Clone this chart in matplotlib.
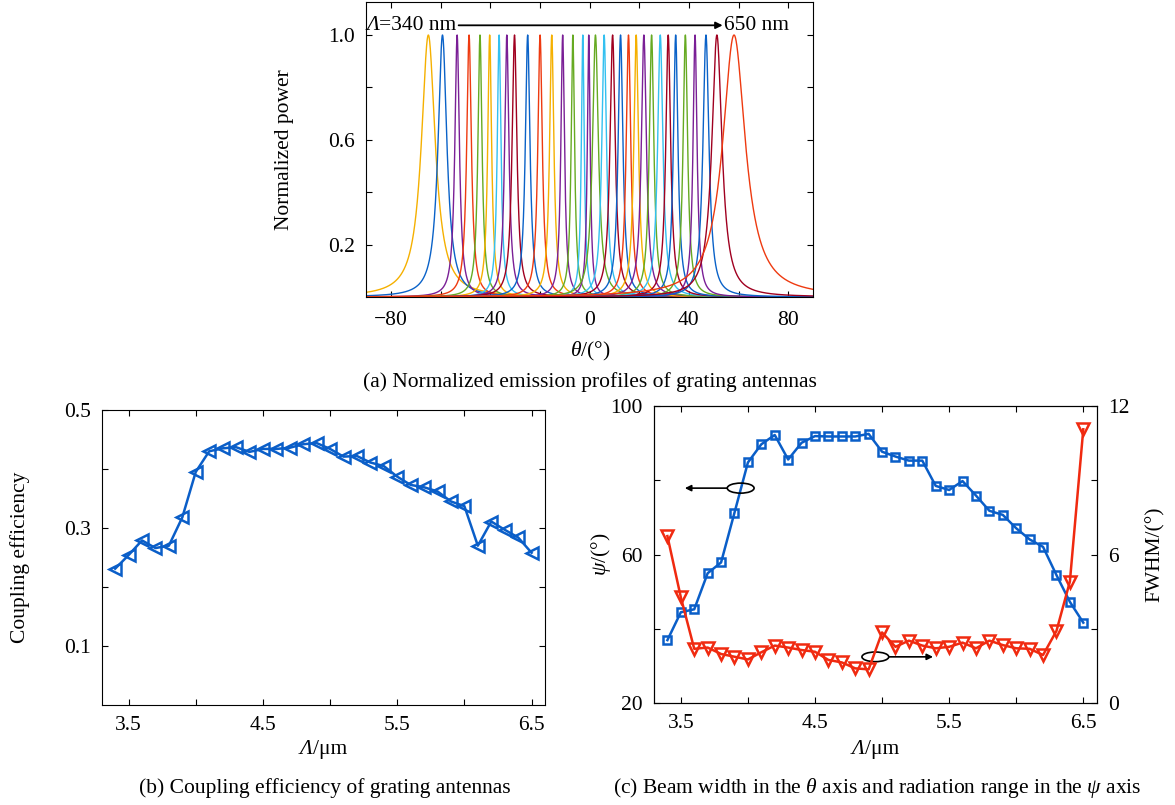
import numpy as np
import matplotlib
matplotlib.use("Agg")
import matplotlib.pyplot as plt
from matplotlib.patches import Ellipse
from matplotlib.offsetbox import TextArea, HPacker, AnnotationBbox

plt.rcParams['font.family'] = ['Liberation Serif', 'DejaVu Serif']
plt.rcParams['mathtext.fontset'] = 'custom'
plt.rcParams['mathtext.rm'] = 'Liberation Serif'
plt.rcParams['mathtext.it'] = 'Liberation Serif:italic'
FS = 15.5
plt.rcParams['font.size'] = FS

# ---------------- data ----------------
# (a) emission profiles: peak angle (deg) and FWHM (deg) for each period 340..650 nm
period_nm = list(range(340, 651, 10))
peak_deg = [-64.9, -59.2, -53.3, -48.5, -44.1, -40.2, -36.4, -33.3, -30.2, -24.9,
            -19.9, -15.2, -10.8, -6.7, -2.7, -0.3, 2.4, 5.9, 9.3, 12.5,
            15.7, 18.8, 21.9, 25.0, 28.5, 31.7, 34.7, 38.6, 42.5, 46.9,
            51.3, 58.2]
curve_colors = ['#F5B000', '#0A62C8', '#7A1F96', '#EE3A10', '#66AA22', '#F5B000', '#33C0F0',
                '#7A1F96', '#A00020', '#0A62C8', '#EE3A10', '#F5B000', '#7A1F96', '#66AA22',
                '#33C0F0', '#7A1F96', '#66AA22', '#33C0F0', '#A00020', '#0A62C8', '#EE3A10',
                '#F5B000', '#7A1F96', '#66AA22', '#33C0F0', '#A00020', '#0A62C8', '#66AA22',
                '#7A1F96', '#0A62C8', '#A00020', '#EE3A10']

# (b), (c) vs period in um
period_um = [3.4, 3.5, 3.6, 3.7, 3.8, 3.9, 4.0, 4.1, 4.2, 4.3, 4.4, 4.5, 4.6, 4.7, 4.8, 4.9,
             5.0, 5.1, 5.2, 5.3, 5.4, 5.5, 5.6, 5.7, 5.8, 5.9, 6.0, 6.1, 6.2, 6.3, 6.4, 6.5]
coupling_eff = [0.231, 0.254, 0.279, 0.266, 0.270, 0.318, 0.395, 0.430, 0.435, 0.437,
                0.429, 0.434, 0.434, 0.436, 0.442, 0.444, 0.434, 0.421, 0.422, 0.411,
                0.405, 0.387, 0.373, 0.369, 0.362, 0.345, 0.337, 0.270, 0.311, 0.297,
                0.284, 0.258]
psi_deg = [37.0, 44.5, 45.3, 55.0, 57.9, 71.3, 84.8, 89.7, 92.2, 85.6, 90.1, 91.9, 91.8,
           91.8, 91.8, 92.5, 87.7, 86.4, 85.3, 85.3, 78.5, 77.4, 79.8, 75.9, 71.8, 70.7,
           67.1, 64.1, 62.1, 54.5, 47.3, 41.7]
fwhm_deg = [6.75, 4.28, 2.20, 2.25, 1.99, 1.88, 1.77, 2.06, 2.33, 2.25, 2.15, 2.08, 1.75,
            1.65, 1.41, 1.37, 2.86, 2.28, 2.53, 2.33, 2.22, 2.28, 2.45, 2.22, 2.53, 2.35,
            2.22, 2.20, 1.95, 2.92, 4.91, 11.06]

W, H = 1175, 805
fig = plt.figure(figsize=(W / 100, H / 100), dpi=100)

def ax_rect(l, t, r, b):
    return [l / W, 1 - b / H, (r - l) / W, (b - t) / H]

def style(ax, **kw):
    ax.tick_params(direction='in', length=4, labelsize=FS, pad=8, **kw)

def mixed_text(ax, parts, xy, xycoords, align):
    boxes = [TextArea(s, textprops=dict(fontsize=FS, fontstyle=st)) for s, st in parts]
    pack = HPacker(children=boxes, pad=0, sep=0, align='baseline')
    ab = AnnotationBbox(pack, xy, xycoords=xycoords, frameon=False,
                        box_alignment=align, pad=0, annotation_clip=False)
    ax.add_artist(ab)

LAMBDA_UM = [('Λ', 'italic'), ('/μm', 'normal')]

blue = '#0A5EC8'
red = '#F02A10'

# ---------------- (a) ----------------
axa = fig.add_axes(ax_rect(366, 2, 813, 297))
theta = np.linspace(-90, 90, 3601)
for c, w, col in zip(peak_deg, fwhm_deg, curve_colors):
    prof = 1.0 / (1.0 + ((theta - c) / (w / 2.0)) ** 2)
    axa.plot(theta, prof, color=col, lw=1.0)
axa.set_xlim(-90, 90)
axa.set_ylim(0, 1.126)
axa.set_xticks(range(-80, 81, 20))
axa.set_xticklabels(['\u221280', '', '\u221240', '', '0', '', '40', '', '80'])
axa.set_yticks([0.2, 0.4, 0.6, 0.8, 1.0])
axa.set_yticklabels(['0.2', '', '0.6', '', '1.0'])
style(axa, top=True, right=True)
axa.tick_params(axis='x', pad=10)
axa.set_xlabel('$\\theta$/(°)', fontsize=FS, va='center')
axa.xaxis.set_label_coords((590 - 366) / 447, (297 - 351) / 295)
axa.set_ylabel('Normalized power', fontsize=FS, va='center')
axa.yaxis.set_label_coords((285 - 366) / 447, 0.5)
mixed_text(axa, [('Λ', 'italic'), ('=340 nm', 'normal')], (-89.8, 1.037), 'data', (0, 0.5))
axa.annotate('', xy=(53.6, 1.037), xytext=(-52.7, 1.037),
             arrowprops=dict(arrowstyle='-|>', color='black', lw=1.3,
                             mutation_scale=10, shrinkA=0, shrinkB=0))
axa.text(54.2, 1.037, '650 nm', fontsize=FS, ha='left', va='center')

# ---------------- (b) ----------------
axb = fig.add_axes(ax_rect(101.7, 410, 545, 705))
axb.plot(period_um, coupling_eff, color=blue, lw=1.8, marker='<', ms=8.5,
         mfc='none', mec=blue, mew=1.8)
axb.set_xlim(3.3, 6.6)
axb.set_ylim(0, 0.5)
axb.set_xticks([3.5, 4.0, 4.5, 5.0, 5.5, 6.0, 6.5])
axb.set_xticklabels(['3.5', '', '4.5', '', '5.5', '', '6.5'])
axb.set_yticks([0.1, 0.2, 0.3, 0.4, 0.5])
axb.set_yticklabels(['0.1', '', '0.3', '', '0.5'])
style(axb, top=True, right=True)
mixed_text(axb, LAMBDA_UM, (0.5, (705 - 749) / 295), 'axes fraction', (0.5, 0.5))
axb.set_ylabel('Coupling efficiency', fontsize=FS, va='center')
axb.yaxis.set_label_coords((20 - 101.7) / 443.3, 0.5)

# ---------------- (c) ----------------
axc = fig.add_axes(ax_rect(654, 406, 1096.7, 703.3))
axc.plot(period_um, psi_deg, color=blue, lw=1.8, marker='s', ms=5.5,
         mfc='none', mec=blue, mew=1.8, zorder=3)
axc.set_xlim(3.3, 6.6)
axc.set_ylim(20, 100)
axc.set_xticks([3.5, 4.0, 4.5, 5.0, 5.5, 6.0, 6.5])
axc.set_xticklabels(['3.5', '', '4.5', '', '5.5', '', '6.5'])
axc.set_yticks([20, 40, 60, 80, 100])
axc.set_yticklabels(['20', '', '60', '', '100'])
style(axc, top=True)
mixed_text(axc, LAMBDA_UM, (0.5, (703.3 - 749) / 297.3), 'axes fraction', (0.5, 0.5))
axc.set_ylabel('$\\psi$/(°)', fontsize=FS, va='center')
axc.yaxis.set_label_coords((601 - 654) / 442.7, 0.5)

axr = axc.twinx()
axr.plot(period_um, fwhm_deg, color=red, lw=1.8, marker='v', ms=8.5,
         mfc='none', mec=red, mew=1.8, zorder=2)
axr.set_ylim(0, 12)
axr.set_yticks([0, 3, 6, 9, 12])
axr.set_yticklabels(['0', '', '6', '', '12'])
style(axr)
axr.set_ylabel('FWHM/(°)', fontsize=FS, va='center')
axr.yaxis.set_label_coords((1155 - 654) / 442.7, 0.5)

axc.add_patch(Ellipse((3.946, 77.9), 0.2, 2.7, fill=False, ec='black', lw=1.2, zorder=5))
axc.annotate('', xy=(3.53, 77.9), xytext=(3.846, 77.9),
             arrowprops=dict(arrowstyle='-|>', color='black', lw=1.2,
                             mutation_scale=9, shrinkA=0, shrinkB=0), zorder=5)
axc.add_patch(Ellipse((4.95, 32.5), 0.2, 2.6, fill=False, ec='black', lw=1.2, zorder=5))
axc.annotate('', xy=(5.38, 32.5), xytext=(5.05, 32.5),
             arrowprops=dict(arrowstyle='-|>', color='black', lw=1.2,
                             mutation_scale=9, shrinkA=0, shrinkB=0), zorder=5)

# ---------------- captions ----------------
fig.text(590 / W, 1 - 382 / H, '(a) Normalized emission profiles of grating antennas',
         ha='center', va='center', fontsize=FS)
fig.text(325 / W, 1 - 788 / H, '(b) Coupling efficiency of grating antennas',
         ha='center', va='center', fontsize=FS)
fig.text(877 / W, 1 - 788 / H,
         '(c) Beam width in the $\\theta$ axis and radiation range in the $\\psi$ axis',
         ha='center', va='center', fontsize=FS)

fig.savefig('out.png', dpi=100)
